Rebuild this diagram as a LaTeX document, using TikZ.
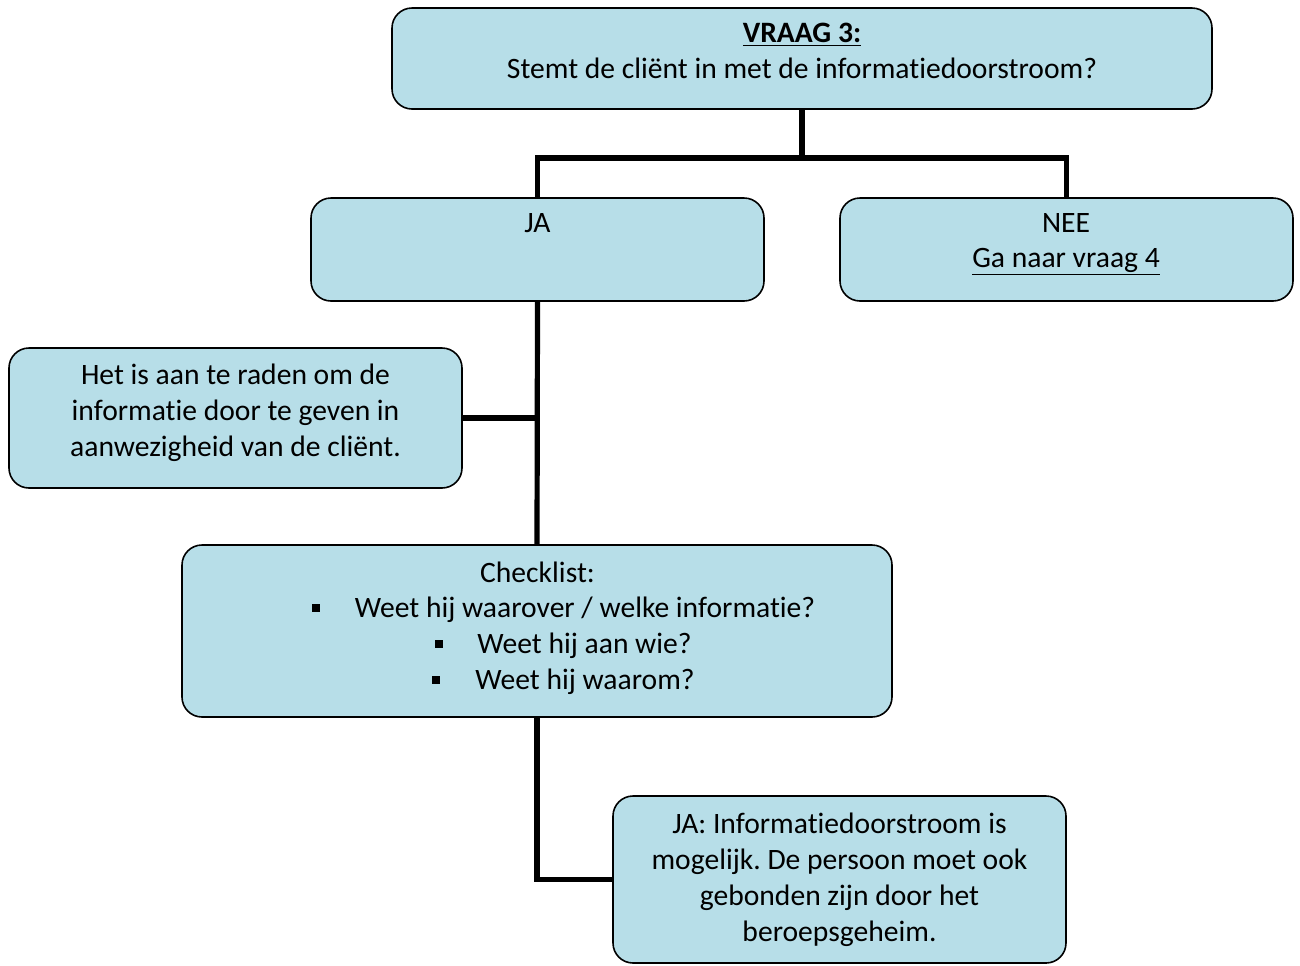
\documentclass[tikz,border=0pt]{standalone}
\usepackage{fontspec}
\setmainfont{Carlito}[Ligatures={NoCommon}]
\frenchspacing
\definecolor{boxfill}{HTML}{B7DEE8}
\begin{document}
\begin{tikzpicture}[x=0.5pt,y=-0.5pt,
  box/.style={draw=black, line width=0.8pt, fill=boxfill, rounded corners=10pt, inner sep=0pt},
  txt/.style={align=center, inner sep=0pt, font=\fontsize{14.8}{18}\selectfont, text height=9.5pt, text depth=2.5pt},
  mtxt/.style={align=center, inner sep=0pt, font=\fontsize{14.8}{18}\selectfont},
  conn/.style={line width=2.6pt},
  bul/.style={fill=black, minimum size=4pt, inner sep=0pt}]
\useasboundingbox (0,0) rectangle (1300,965);
% boxes
\node[box, minimum width=410pt, minimum height=50.5pt] (q) at (802,58.5) {};
\node[box, minimum width=226.5pt, minimum height=51.5pt] (ja) at (537.5,249.5) {};
\node[box, minimum width=226.5pt, minimum height=51.5pt] (nee) at (1066.5,249.5) {};
\node[box, minimum width=226.5pt, minimum height=70pt] (left) at (235.5,418) {};
\node[box, minimum width=355pt, minimum height=86pt] (chk) at (537,631) {};
\node[box, minimum width=226.5pt, minimum height=83.5pt] (bot) at (839.5,879.5) {};
% connectors
\coordinate (bus) at (802,158);
\draw[conn] (q.south) -- (bus);
\draw[conn] (ja.north) |- (bus) -| (nee.north);
\draw[conn] (ja.south) -- (chk.north);
\draw[conn] (left.east) -- (left.east -| ja.south);
\draw[conn] (chk.south) |- (bot.west);
% texts
\node[txt] (qt) at (802,35) {\textbf{\underline{VRAAG 3:}}};
\node[txt] (qs) at (802,71) {Stemt de cliënt in met de informatiedoorstroom?};
\node[txt] (jat) at (537.5,225) {JA};
\node[txt] (neet) at (1066,225) {NEE};
\node[txt] (neeg) at (1066,260) {\underline{Ga naar vraag 4}};
\node[mtxt] (leftt) at (235.5,412.5) {Het is aan te raden om de\\informatie door te geven in\\aanwezigheid van de cliënt.};
\node[txt] (chkt) at (537.5,575) {Checklist:};
\node[bul] (b1) at (316,608) {};
\node[txt] (c1) at (585,610) {Weet hij waarover / welke informatie?};
\node[bul] (b2) at (439,644) {};
\node[txt] (c2) at (584.5,646) {Weet hij aan wie?};
\node[bul] (b3) at (436,680) {};
\node[txt] (c3) at (585,682) {Weet hij waarom?};
\node[mtxt] (bott) at (839.5,879.5) {JA: Informatiedoorstroom is\\mogelijk. De persoon moet ook\\gebonden zijn door het\\beroepsgeheim.};
\end{tikzpicture}
\end{document}
